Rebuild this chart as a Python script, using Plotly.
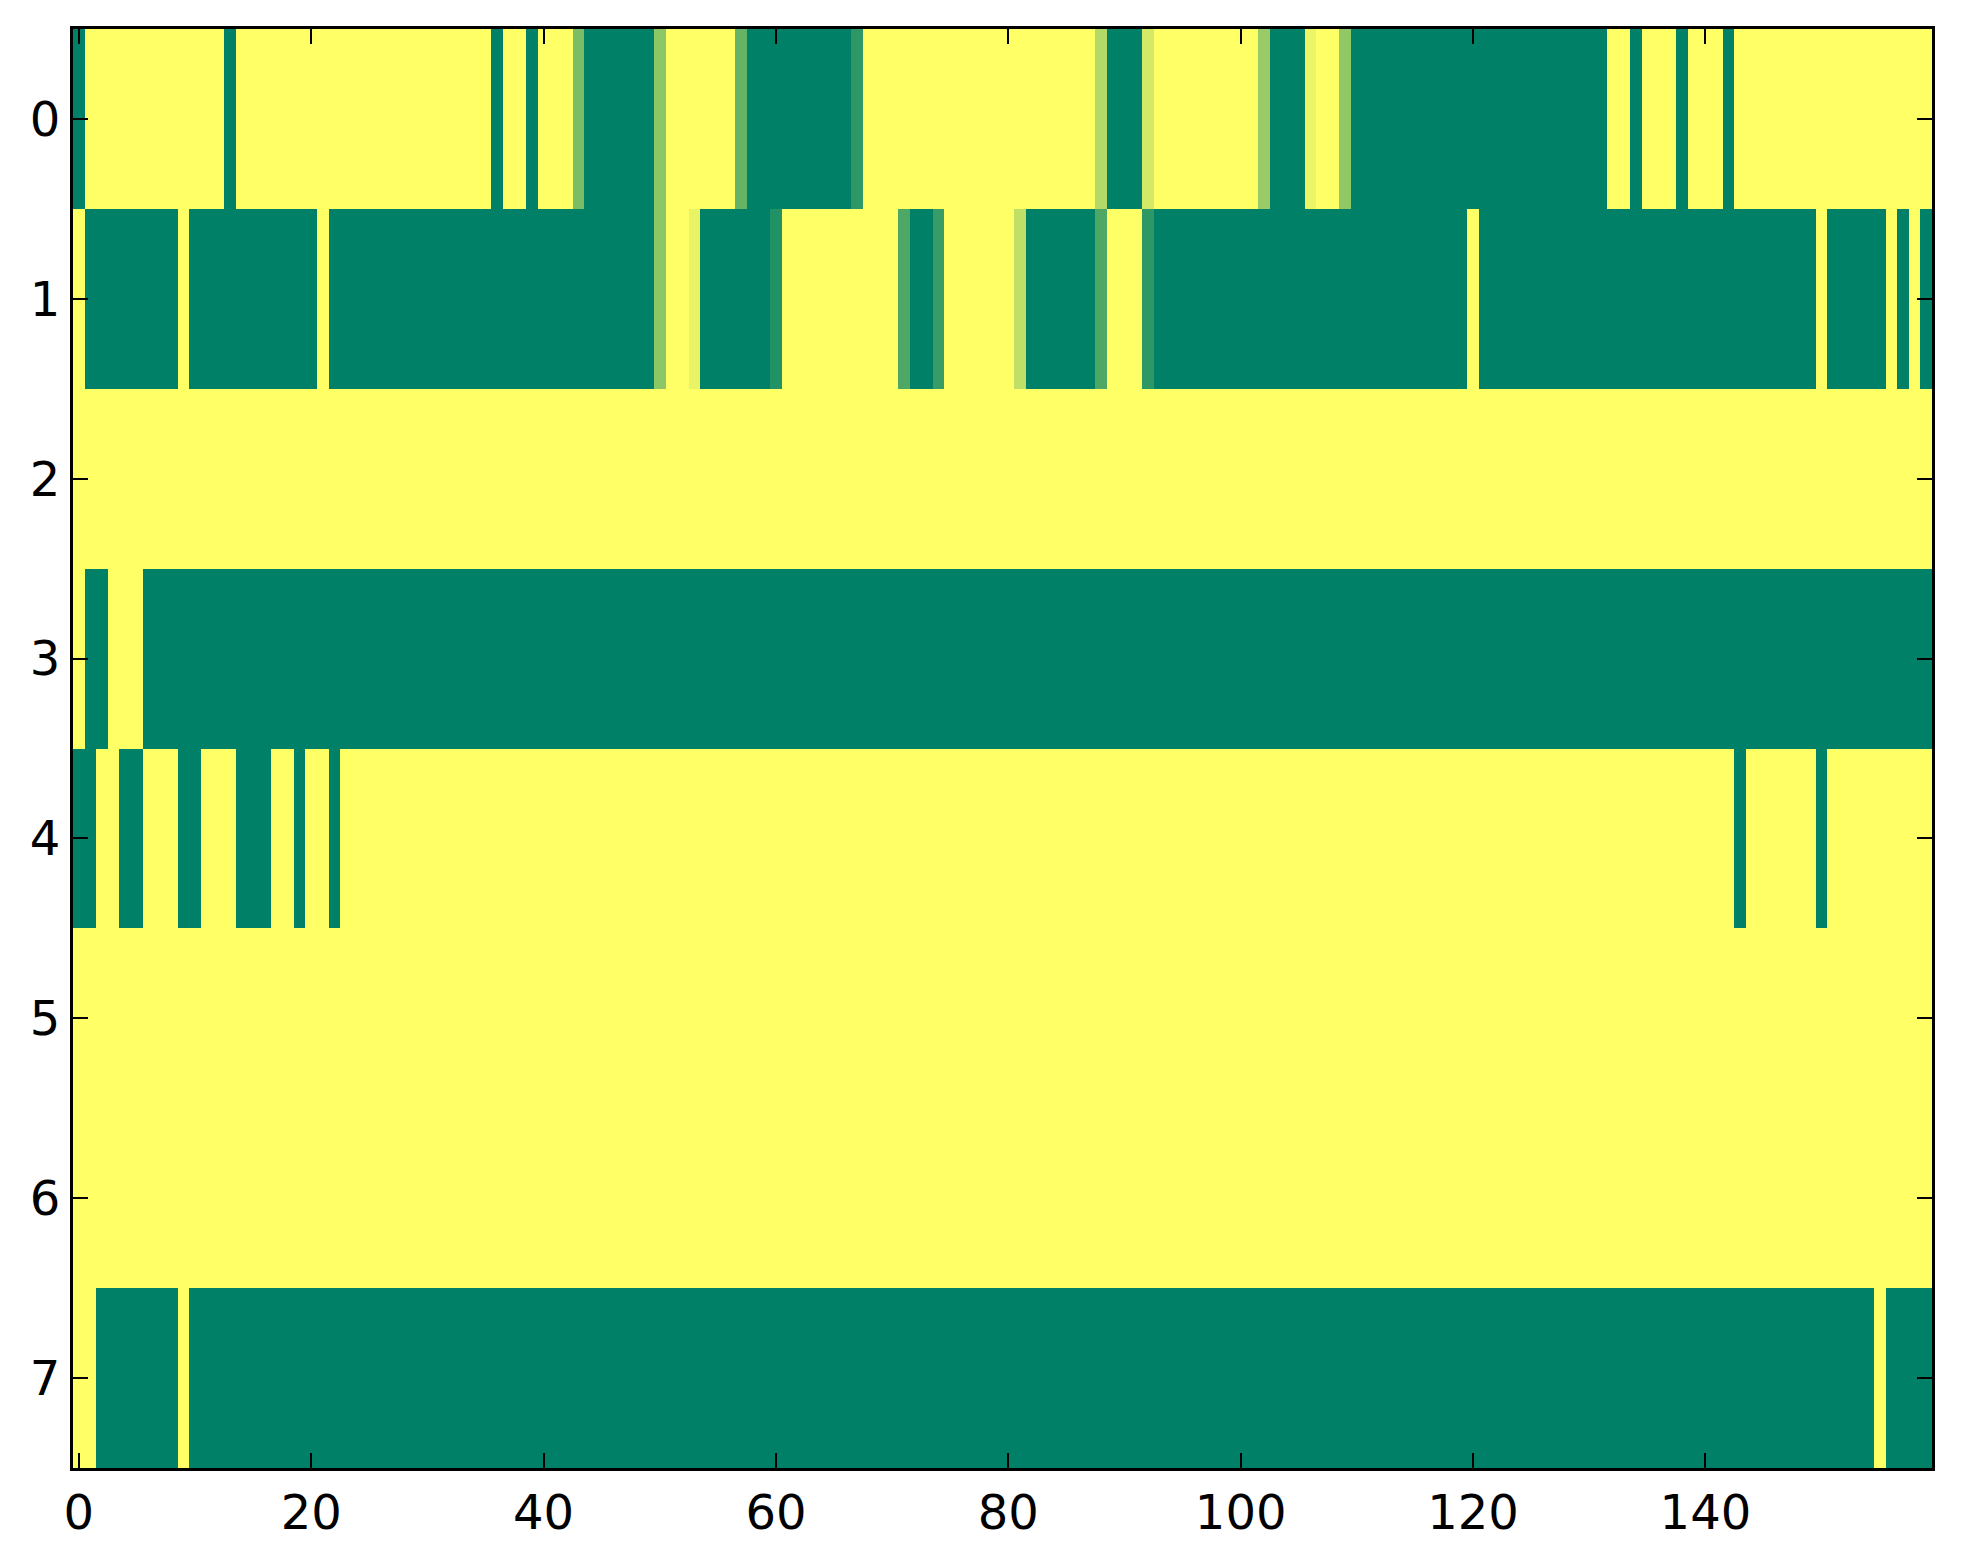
import plotly.graph_objects as go

# 8 x 160 matrix, values in [0, 1], drawn with the "summer" colormap
row0 = [0, 1, 1, 1, 1, 1, 1, 1, 1, 1, 1, 1, 1, 0, 1, 1, 1, 1, 1, 1,
        1, 1, 1, 1, 1, 1, 1, 1, 1, 1, 1, 1, 1, 1, 1, 1, 0, 1, 1, 0,
        1, 1, 1, .48, 0, 0, 0, 0, 0, 0, .55, 1, 1, 1, 1, 1, 1, .40, 0, 0,
        0, 0, 0, 0, 0, 0, 0, .18, 1, 1, 1, 1, 1, 1, 1, 1, 1, 1, 1, 1,
        1, 1, 1, 1, 1, 1, 1, 1, .70, 0, 0, 0, .83, 1, 1, 1, 1, 1, 1, 1,
        1, 1, .60, 0, 0, 0, .92, 1, 1, .57, 0, 0, 0, 0, 0, 0, 0, 0, 0, 0,
        0, 0, 0, 0, 0, 0, 0, 0, 0, 0, 0, 0, 1, 1, 0, 1, 1, 1, 0, 1,
        1, 1, 0, 1, 1, 1, 1, 1, 1, 1, 1, 1, 1, 1, 1, 1, 1, 1, 1, 1]
row1 = [1, 0, 0, 0, 0, 0, 0, 0, 0, 1, 0, 0, 0, 0, 0, 0, 0, 0, 0, 0,
        0, 1, 0, 0, 0, 0, 0, 0, 0, 0, 0, 0, 0, 0, 0, 0, 0, 0, 0, 0,
        0, 0, 0, 0, 0, 0, 0, 0, 0, 0, .55, 1, 1, .91, 0, 0, 0, 0, 0, 0,
        .13, 1, 1, 1, 1, 1, 1, 1, 1, 1, 1, .31, 0, 0, .22, 1, 1, 1, 1, 1,
        1, .75, 0, 0, 0, 0, 0, 0, .31, 1, 1, 1, .18, 0, 0, 0, 0, 0, 0, 0,
        0, 0, 0, 0, 0, 0, 0, 0, 0, 0, 0, 0, 0, 0, 0, 0, 0, 0, 0, 0,
        1, 0, 0, 0, 0, 0, 0, 0, 0, 0, 0, 0, 0, 0, 0, 0, 0, 0, 0, 0,
        0, 0, 0, 0, 0, 0, 0, 0, 0, 0, 1, 0, 0, 0, 0, 0, 1, 0, 1, 0]
row2 = [1, 1, 1, 1, 1, 1, 1, 1, 1, 1, 1, 1, 1, 1, 1, 1, 1, 1, 1, 1,
        1, 1, 1, 1, 1, 1, 1, 1, 1, 1, 1, 1, 1, 1, 1, 1, 1, 1, 1, 1,
        1, 1, 1, 1, 1, 1, 1, 1, 1, 1, 1, 1, 1, 1, 1, 1, 1, 1, 1, 1,
        1, 1, 1, 1, 1, 1, 1, 1, 1, 1, 1, 1, 1, 1, 1, 1, 1, 1, 1, 1,
        1, 1, 1, 1, 1, 1, 1, 1, 1, 1, 1, 1, 1, 1, 1, 1, 1, 1, 1, 1,
        1, 1, 1, 1, 1, 1, 1, 1, 1, 1, 1, 1, 1, 1, 1, 1, 1, 1, 1, 1,
        1, 1, 1, 1, 1, 1, 1, 1, 1, 1, 1, 1, 1, 1, 1, 1, 1, 1, 1, 1,
        1, 1, 1, 1, 1, 1, 1, 1, 1, 1, 1, 1, 1, 1, 1, 1, 1, 1, 1, 1]
row3 = [1, 0, 0, 1, 1, 1, 0, 0, 0, 0, 0, 0, 0, 0, 0, 0, 0, 0, 0, 0,
        0, 0, 0, 0, 0, 0, 0, 0, 0, 0, 0, 0, 0, 0, 0, 0, 0, 0, 0, 0,
        0, 0, 0, 0, 0, 0, 0, 0, 0, 0, 0, 0, 0, 0, 0, 0, 0, 0, 0, 0,
        0, 0, 0, 0, 0, 0, 0, 0, 0, 0, 0, 0, 0, 0, 0, 0, 0, 0, 0, 0,
        0, 0, 0, 0, 0, 0, 0, 0, 0, 0, 0, 0, 0, 0, 0, 0, 0, 0, 0, 0,
        0, 0, 0, 0, 0, 0, 0, 0, 0, 0, 0, 0, 0, 0, 0, 0, 0, 0, 0, 0,
        0, 0, 0, 0, 0, 0, 0, 0, 0, 0, 0, 0, 0, 0, 0, 0, 0, 0, 0, 0,
        0, 0, 0, 0, 0, 0, 0, 0, 0, 0, 0, 0, 0, 0, 0, 0, 0, 0, 0, 0]
row4 = [0, 0, 1, 1, 0, 0, 1, 1, 1, 0, 0, 1, 1, 1, 0, 0, 0, 1, 1, 0,
        1, 1, 0, 1, 1, 1, 1, 1, 1, 1, 1, 1, 1, 1, 1, 1, 1, 1, 1, 1,
        1, 1, 1, 1, 1, 1, 1, 1, 1, 1, 1, 1, 1, 1, 1, 1, 1, 1, 1, 1,
        1, 1, 1, 1, 1, 1, 1, 1, 1, 1, 1, 1, 1, 1, 1, 1, 1, 1, 1, 1,
        1, 1, 1, 1, 1, 1, 1, 1, 1, 1, 1, 1, 1, 1, 1, 1, 1, 1, 1, 1,
        1, 1, 1, 1, 1, 1, 1, 1, 1, 1, 1, 1, 1, 1, 1, 1, 1, 1, 1, 1,
        1, 1, 1, 1, 1, 1, 1, 1, 1, 1, 1, 1, 1, 1, 1, 1, 1, 1, 1, 1,
        1, 1, 1, 0, 1, 1, 1, 1, 1, 1, 0, 1, 1, 1, 1, 1, 1, 1, 1, 1]
row5 = list(row2)
row6 = list(row2)
row7 = [1, 1, 0, 0, 0, 0, 0, 0, 0, 1, 0, 0, 0, 0, 0, 0, 0, 0, 0, 0,
        0, 0, 0, 0, 0, 0, 0, 0, 0, 0, 0, 0, 0, 0, 0, 0, 0, 0, 0, 0,
        0, 0, 0, 0, 0, 0, 0, 0, 0, 0, 0, 0, 0, 0, 0, 0, 0, 0, 0, 0,
        0, 0, 0, 0, 0, 0, 0, 0, 0, 0, 0, 0, 0, 0, 0, 0, 0, 0, 0, 0,
        0, 0, 0, 0, 0, 0, 0, 0, 0, 0, 0, 0, 0, 0, 0, 0, 0, 0, 0, 0,
        0, 0, 0, 0, 0, 0, 0, 0, 0, 0, 0, 0, 0, 0, 0, 0, 0, 0, 0, 0,
        0, 0, 0, 0, 0, 0, 0, 0, 0, 0, 0, 0, 0, 0, 0, 0, 0, 0, 0, 0,
        0, 0, 0, 0, 0, 0, 0, 0, 0, 0, 0, 0, 0, 0, 0, 1, 0, 0, 0, 0]

matrix = [row0, row1, row2, row3, row4, row5, row6, row7]
cols = list(range(160))
rows = list(range(8))
x_ticks = [0, 20, 40, 60, 80, 100, 120, 140]

summer = [[0, "rgb(0,128,102)"], [1, "rgb(255,255,102)"]]

fig = go.Figure(go.Heatmap(
    z=matrix, x=cols, y=rows,
    colorscale=summer, zmin=0, zmax=1,
    showscale=False,
))

axis_style = dict(
    showline=True, linecolor="black", linewidth=3, mirror="ticks",
    ticks="inside", ticklen=15, tickwidth=1.5, tickcolor="black",
    showgrid=False, zeroline=False,
)
fig.update_xaxes(range=[-0.5, 159.5], tickvals=x_ticks, **axis_style)
fig.update_yaxes(range=[7.5, -0.5], tickvals=rows, **axis_style)

# page body has an 8px margin, so the plot box is nudged back by that much
fig.update_layout(
    width=1963, height=1564,
    margin=dict(l=65, r=39, t=21, b=104),
    paper_bgcolor="white", plot_bgcolor="white",
    font=dict(family="DejaVu Sans", size=48, color="black"),
)

fig.write_html("out.html")
